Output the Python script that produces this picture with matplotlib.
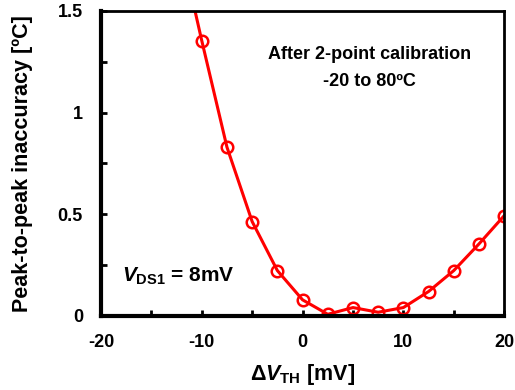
import numpy as np
import matplotlib
matplotlib.use('Agg')
import matplotlib.pyplot as plt
from matplotlib.ticker import MultipleLocator

plt.rcParams['font.family'] = 'Liberation Sans'
plt.rcParams['font.weight'] = 'bold'
plt.rcParams['axes.unicode_minus'] = False
plt.rcParams['mathtext.fontset'] = 'custom'
plt.rcParams['mathtext.rm'] = 'Liberation Sans:bold'
plt.rcParams['mathtext.it'] = 'Liberation Sans:bold:italic'
plt.rcParams['mathtext.bf'] = 'Liberation Sans:bold'

# Data
delta_vth = [-12.5, -10, -7.5, -5, -2.5, 0, 2.5, 5, 7.5, 10, 12.5, 15, 17.5, 20]
inaccuracy = [1.90, 1.354, 0.830, 0.464, 0.223, 0.079, 0.008, 0.041, 0.018,
              0.041, 0.120, 0.223, 0.354, 0.493]
x_ticks = [-20, -10, 0, 10, 20]
y_ticks = [0, 0.5, 1, 1.5]
y_tick_labels = ['0', '0.5', '1', '1.5']

fig = plt.figure(figsize=(5.15, 3.9), dpi=100)
ax = fig.add_axes([0.196, 0.19, 0.783, 0.782])

ax.plot(delta_vth, inaccuracy, color='#FF0000', linewidth=2.2, marker='o',
        markersize=8.3, markerfacecolor='none', markeredgewidth=1.8)

ax.set_xlim(-20, 20)
ax.set_ylim(0, 1.5)
ax.set_xticks(x_ticks)
ax.xaxis.set_minor_locator(MultipleLocator(5))
ax.set_yticks(y_ticks)
ax.set_yticklabels(y_tick_labels)
ax.yaxis.set_minor_locator(MultipleLocator(0.25))
ax.tick_params(which='both', direction='in', width=2, length=4, labelsize=13, pad=13)

for side in ['left', 'bottom']:
    ax.spines[side].set_linewidth(3)
for side in ['top', 'right']:
    ax.spines[side].set_linewidth(2)

ax.set_xlabel(r'$\Delta V_{\rm TH}$ [mV]', fontsize=15.5, fontweight='bold', labelpad=8)
ax.set_ylabel('Peak-to-peak inaccuracy [ºC]', fontsize=15.5, fontweight='bold', labelpad=18)

ax.text(0.666, 0.856, 'After 2-point calibration', transform=ax.transAxes,
        ha='center', va='center', fontsize=13, fontweight='bold')
ax.text(0.666, 0.767, '-20 to 80ºC', transform=ax.transAxes,
        ha='center', va='center', fontsize=13, fontweight='bold')
ax.text(0.053, 0.13, r'$V_{\rm DS1}$ = 8mV', transform=ax.transAxes,
        ha='left', va='center', fontsize=15, fontweight='bold')

fig.savefig('out.png', dpi=100)
